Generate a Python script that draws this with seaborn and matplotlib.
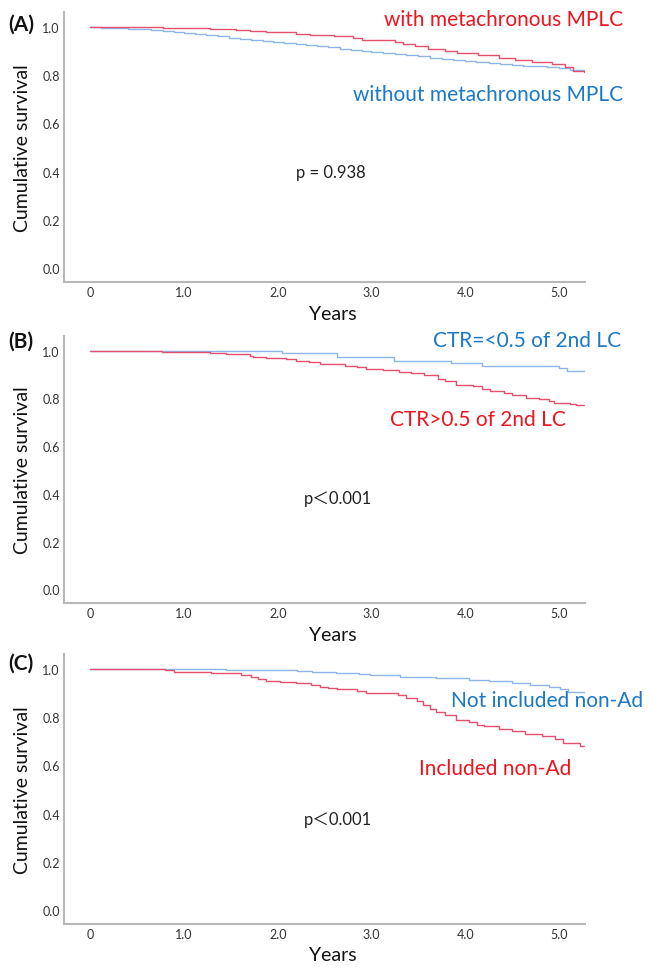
"""
Kaplan-Meier style step curves for three MPLC subgroup comparisons,
stacked as panels (A), (B), (C).
"""

import pandas as pd
import matplotlib
matplotlib.use('Agg')
import matplotlib.pyplot as plt
import seaborn as sns

# ---- data (years, cumulative survival) ----
a_with_t = [0, 0.78, 1.28, 1.56, 1.70, 1.88, 2.20, 2.34, 2.60, 2.80,
            2.90, 3.25, 3.34, 3.47, 3.60, 3.78, 3.91, 4.14, 4.36, 4.53,
            4.71, 4.93, 5.07, 5.15, 5.27]
a_with_s = [1.0, 0.996, 0.992, 0.989, 0.985, 0.978, 0.972, 0.967, 0.961, 0.956,
            0.945, 0.939, 0.931, 0.921, 0.910, 0.901, 0.892, 0.883, 0.873, 0.862,
            0.854, 0.846, 0.834, 0.818, 0.815]

a_without_t = [0, 0.12, 0.25, 0.40, 0.53, 0.65, 0.78, 0.89, 1.00, 1.12,
               1.24, 1.36, 1.48, 1.60, 1.72, 1.84, 1.95, 2.07, 2.19, 2.30,
               2.42, 2.54, 2.66, 2.78, 2.90, 3.00, 3.12, 3.25, 3.37, 3.50,
               3.62, 3.75, 3.87, 4.00, 4.12, 4.25, 4.37, 4.50, 4.62, 4.75,
               4.87, 5.00, 5.12, 5.27]
a_without_s = [1.0, 0.997, 0.995, 0.992, 0.990, 0.986, 0.983, 0.979, 0.975, 0.970,
               0.965, 0.961, 0.956, 0.952, 0.947, 0.943, 0.938, 0.933, 0.929, 0.924,
               0.919, 0.915, 0.910, 0.906, 0.902, 0.898, 0.893, 0.888, 0.883, 0.878,
               0.873, 0.868, 0.863, 0.858, 0.854, 0.850, 0.847, 0.843, 0.839, 0.836,
               0.832, 0.828, 0.822, 0.818]

b_low_t = [0, 2.05, 2.63, 3.24, 3.85, 4.18, 5.00, 5.09, 5.27]
b_low_s = [1.0, 0.990, 0.973, 0.959, 0.948, 0.937, 0.927, 0.917, 0.917]

b_high_t = [0, 0.77, 1.28, 1.45, 1.70, 1.74, 1.87, 2.09, 2.20, 2.33,
            2.45, 2.72, 2.85, 2.94, 3.12, 3.29, 3.42, 3.56, 3.71, 3.79,
            3.90, 4.08, 4.18, 4.26, 4.41, 4.50, 4.65, 4.79, 4.89, 4.95,
            5.12, 5.18, 5.27]
b_high_s = [1.0, 0.994, 0.991, 0.988, 0.980, 0.973, 0.969, 0.965, 0.958, 0.953,
            0.946, 0.938, 0.930, 0.924, 0.918, 0.912, 0.906, 0.897, 0.881, 0.872,
            0.858, 0.851, 0.840, 0.833, 0.824, 0.813, 0.803, 0.796, 0.789, 0.782,
            0.776, 0.771, 0.771]

c_notinc_t = [0, 1.45, 2.21, 2.37, 2.62, 2.87, 2.98, 3.30, 3.69, 4.04,
              4.25, 4.50, 4.69, 4.89, 5.01, 5.10, 5.27]
c_notinc_s = [1.0, 0.997, 0.992, 0.988, 0.985, 0.978, 0.975, 0.968, 0.961, 0.955,
              0.948, 0.941, 0.933, 0.924, 0.916, 0.906, 0.906]

c_inc_t = [0, 0.80, 0.89, 1.29, 1.61, 1.72, 1.79, 1.88, 2.02, 2.20,
           2.36, 2.45, 2.54, 2.63, 2.85, 2.94, 3.03, 3.28, 3.37, 3.49,
           3.55, 3.62, 3.69, 3.78, 3.90, 4.04, 4.13, 4.20, 4.36, 4.50,
           4.64, 4.82, 4.96, 5.04, 5.22, 5.27]
c_inc_s = [1.0, 0.994, 0.988, 0.983, 0.974, 0.967, 0.960, 0.950, 0.944, 0.940,
           0.933, 0.926, 0.919, 0.915, 0.908, 0.901, 0.898, 0.893, 0.879, 0.865,
           0.850, 0.835, 0.820, 0.810, 0.789, 0.778, 0.769, 0.762, 0.752, 0.741,
           0.731, 0.720, 0.709, 0.693, 0.682, 0.682]

x_ticks = [0, 1, 2, 3, 4, 5]
x_tick_labels = ['0', '1.0', '2.0', '3.0', '4.0', '5.0']
y_ticks = [0.0, 0.2, 0.4, 0.6, 0.8, 1.0]
y_tick_labels = ['0.0', '0.2', '0.4', '0.6', '0.8', '1.0']

panel_tags = ['(A)', '(B)', '(C)']
p_texts = ['p = 0.938', 'p\uff1c0.001', 'p\uff1c0.001']

LINE_RED = '#e4506e'
LINE_BLUE = '#8db5ea'
TEXT_RED = '#f0141e'
TEXT_BLUE = '#1a78c8'


def make_frame(groups):
    """Stack (name, times, survival) triples into one long frame."""
    parts = []
    for name, t, s in groups:
        parts.append(pd.DataFrame({'years': t, 'survival': s, 'group': name}))
    return pd.concat(parts, ignore_index=True)


panels = [
    make_frame([('without', a_without_t, a_without_s), ('with', a_with_t, a_with_s)]),
    make_frame([('low', b_low_t, b_low_s), ('high', b_high_t, b_high_s)]),
    make_frame([('notinc', c_notinc_t, c_notinc_s), ('inc', c_inc_t, c_inc_s)]),
]
palettes = [
    {'without': LINE_BLUE, 'with': LINE_RED},
    {'low': LINE_BLUE, 'high': LINE_RED},
    {'notinc': LINE_BLUE, 'inc': LINE_RED},
]

# curve labels: (text, x, y, colour, ha)
curve_labels = [
    [('with metachronous MPLC', 5.69, 1.035, TEXT_RED, 'right'),
     ('without metachronous MPLC', 5.69, 0.722, TEXT_BLUE, 'right')],
    [('CTR=<0.5 of 2nd LC', 5.66, 1.045, TEXT_BLUE, 'right'),
     ('CTR>0.5 of 2nd LC', 5.07, 0.715, TEXT_RED, 'right')],
    [('Not included non-Ad', 3.85, 0.872, TEXT_BLUE, 'left'),
     ('Included non-Ad', 3.51, 0.590, TEXT_RED, 'left')],
]
p_pos = [(2.2, 0.398), (2.28, 0.384), (2.28, 0.376)]
# panel tag centres in pixels from the top of the figure
tag_y_px = [25, 342, 664]
xlabel_y = [-0.085, -0.085, -0.08]

sns.set_style('white')
plt.rcParams['font.family'] = ['Lato', 'Noto Sans CJK JP', 'DejaVu Sans']

fig = plt.figure(figsize=(6.49, 9.70), dpi=100)

# axes boxes in figure fractions (left, bottom, width, height)
boxes = [
    [0.0986, 0.7082, 0.803, 0.2784],
    [0.0986, 0.3773, 0.803, 0.2753],
    [0.0986, 0.0464, 0.803, 0.2784],
]

for i, df in enumerate(panels):
    ax = fig.add_axes(boxes[i])
    sns.lineplot(
        data=df, x='years', y='survival', hue='group', palette=palettes[i],
        estimator=None, drawstyle='steps-post', linewidth=1.0,
        legend=False, ax=ax
    )
    ax.set_xlim(-0.28, 5.28)
    ax.set_ylim(-0.058, 1.062)
    ax.set_xticks(x_ticks)
    ax.set_xticklabels(x_tick_labels)
    ax.set_yticks(y_ticks)
    ax.set_yticklabels(y_tick_labels)
    ax.tick_params(length=0, labelsize=9, colors='#333333')
    ax.tick_params(axis='x', pad=3)
    ax.tick_params(axis='y', pad=3)
    for side in ['top', 'right']:
        ax.spines[side].set_visible(False)
    for side in ['left', 'bottom']:
        ax.spines[side].set_color('#b8b8b8')
        ax.spines[side].set_linewidth(1.5)

    ax.set_xlabel('Years', fontsize=14, color='#111111')
    ax.xaxis.set_label_coords(0.515, xlabel_y[i])
    ax.set_ylabel('Cumulative survival', fontsize=14, color='#111111', labelpad=8)

    for text, x, y, col, ha in curve_labels[i]:
        ax.text(x, y, text, color=col, fontsize=15, ha=ha, va='center', clip_on=False)

    ax.text(p_pos[i][0], p_pos[i][1], p_texts[i],
            fontsize=12, color='#222222', ha='left', va='center')

    fig.text(0.012, 1 - tag_y_px[i] / 970, panel_tags[i], fontsize=15,
             fontweight='bold', ha='left', va='center', color='#111111')

fig.savefig('out.png', dpi=100)
